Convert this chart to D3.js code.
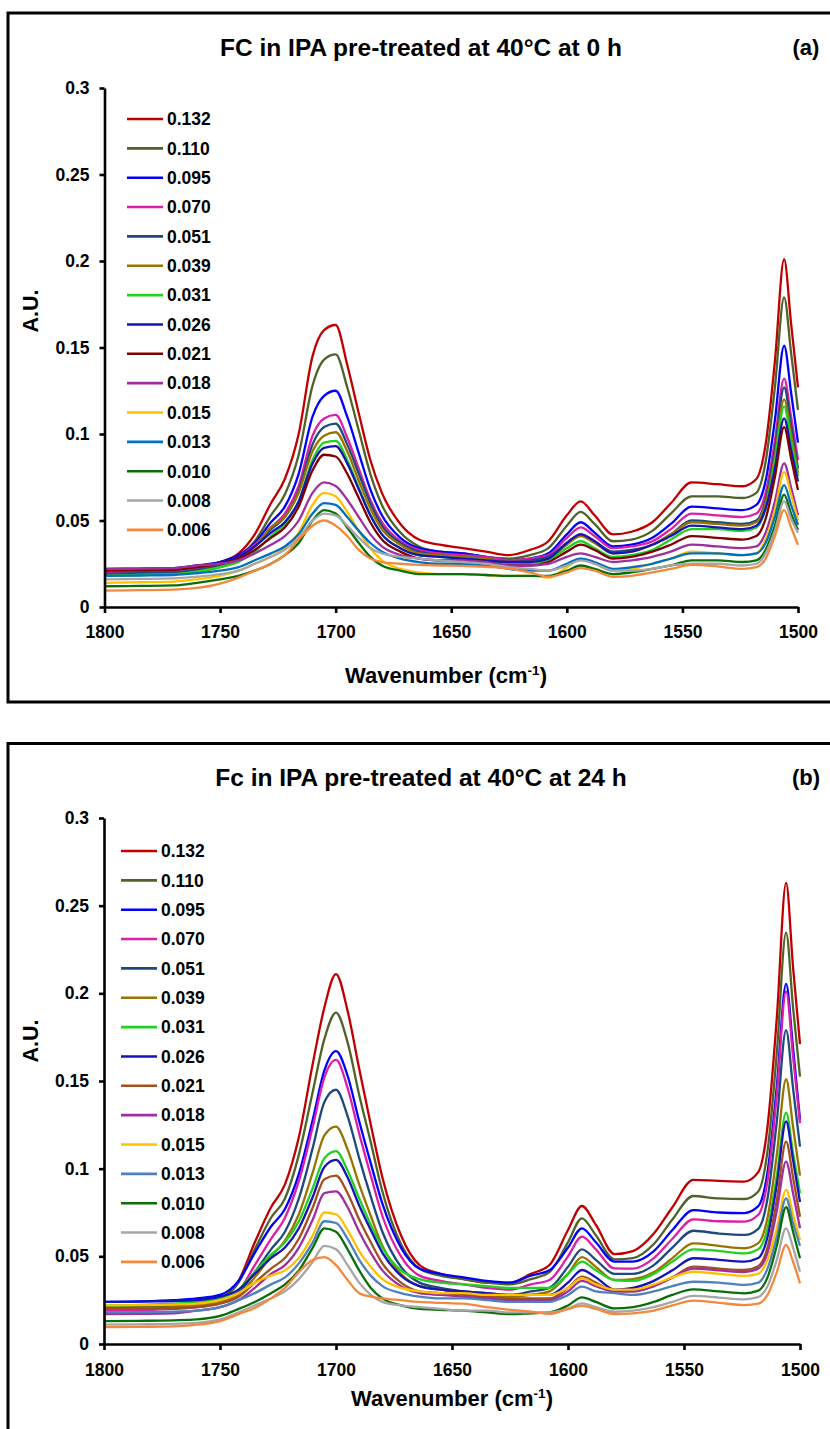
<!DOCTYPE html>
<html>
<head>
<meta charset="utf-8">
<script src="https://cdn.jsdelivr.net/npm/d3@7"></script>
<style>
  html, body { margin: 0; padding: 0; background: #fff; }
  svg { display: block; font-family: "Liberation Sans", Arial, sans-serif; }
</style>
</head>
<body>
<div id="chart"></div>
<script>
// wavenumber grid (cm-1) shared by all spectra
const wavenumber = [1800,1785,1770,1760,1750,1742,1735,1728,1722,1716,1710,1705,1700,1695,1690,1685,1680,1672,1664,1655,1645,1635,1625,1616,1608,1600,1594,1588,1580,1572,1563,1555,1546,1535,1524,1518,1514,1510,1506,1503,1500]

const concentrations = ["0.132","0.110","0.095","0.070","0.051","0.039","0.031","0.026","0.021","0.018","0.015","0.013","0.010","0.008","0.006"]
const xTicks = [1800,1750,1700,1650,1600,1550,1500]
const yTicks = [0,0.05,0.1,0.15,0.2,0.25,0.3]
const yTickLabels = ["0","0.05","0.1","0.15","0.2","0.25","0.3"]

const titleA = "FC in IPA pre-treated at 40\u00B0C at 0 h"
const titleB = "Fc in IPA pre-treated at 40\u00B0C at 24 h"

const colorsA = ["#c00000","#4f6228","#0000ff","#dc1ea8","#1f497d","#997300","#22d022","#1414b8","#800000","#9e2fa0","#ffc000","#0070c0","#0a6e0a","#a6a6a6","#f4883c"]
const colorsB = ["#c00000","#4f6228","#0000ff","#dc1ea8","#1f497d","#997300","#22d022","#1414b8","#a0501e","#9e2fa0","#ffc000","#4f81bd","#0a6e0a","#a6a6a6","#f4883c"]

// (a) 0 h
const a132 = [0.021,0.0215,0.022,0.0235,0.026, 0.031,0.042,0.060,0.074,0.100,0.145,0.160,0.163,0.140,0.112,0.085,0.066, 0.048,0.039,0.036,0.034,0.032,0.030,0.033,0.038,0.053,0.061,0.053,0.042,0.0435,0.049,0.060,0.072,0.071, 0.0698,0.074,0.094,0.142,0.201,0.164,0.127]
const a110 = [0.020,0.0205,0.021,0.0225,0.025, 0.029,0.038,0.053,0.065,0.088,0.128,0.143,0.146,0.127,0.102,0.077,0.059, 0.043,0.035,0.032,0.031,0.029,0.028,0.030,0.034,0.047,0.055,0.048,0.038,0.039,0.044,0.054,0.064,0.064, 0.063,0.066,0.084,0.127,0.179,0.147,0.114]
const a095 = [0.021,0.0215,0.022,0.0235,0.026, 0.030,0.037,0.049,0.058,0.077,0.110,0.122,0.125,0.110,0.089,0.068,0.053, 0.040,0.034,0.032,0.031,0.029,0.027,0.028,0.031,0.042,0.049,0.043,0.035,0.036,0.040,0.048,0.058,0.057, 0.056,0.059,0.073,0.108,0.151,0.124,0.095]
const a070 = [0.020,0.0205,0.021,0.0225,0.025, 0.029,0.036,0.046,0.054,0.070,0.099,0.109,0.111,0.098,0.080,0.062,0.049, 0.038,0.033,0.031,0.030,0.029,0.027,0.028,0.030,0.040,0.046,0.041,0.034,0.035,0.038,0.045,0.054,0.053, 0.052,0.054,0.066,0.096,0.132,0.110,0.085]
const a051 = [0.019,0.0195,0.020,0.0215,0.024, 0.028,0.035,0.045,0.052,0.067,0.094,0.104,0.106,0.094,0.077,0.060,0.047, 0.037,0.032,0.030,0.029,0.028,0.026,0.027,0.029,0.037,0.042,0.038,0.032,0.033,0.036,0.042,0.050,0.049, 0.048,0.050,0.062,0.091,0.127,0.105,0.080]
const a039 = [0.018,0.0185,0.019,0.0205,0.023, 0.027,0.035,0.046,0.052,0.066,0.090,0.099,0.101,0.090,0.073,0.057,0.045, 0.036,0.031,0.030,0.029,0.028,0.026,0.026,0.028,0.036,0.041,0.037,0.031,0.032,0.036,0.042,0.049,0.048, 0.047,0.049,0.060,0.087,0.120,0.100,0.0775]
const a031 = [0.018,0.0185,0.019,0.0205,0.023, 0.026,0.032,0.041,0.048,0.061,0.085,0.095,0.096,0.085,0.069,0.053,0.042, 0.034,0.030,0.029,0.028,0.027,0.025,0.025,0.027,0.034,0.038,0.034,0.029,0.030,0.033,0.039,0.045,0.045, 0.044,0.046,0.057,0.084,0.116,0.096,0.0756]
const a026 = [0.022,0.0222,0.0225,0.024,0.026, 0.029,0.035,0.043,0.049,0.061,0.083,0.092,0.093,0.083,0.068,0.053,0.042, 0.034,0.030,0.029,0.028,0.027,0.026,0.026,0.028,0.037,0.042,0.038,0.031,0.032,0.036,0.041,0.047,0.046, 0.045,0.047,0.057,0.080,0.109,0.091,0.0725]
const a021 = [0.021,0.0212,0.0215,0.023,0.025, 0.028,0.033,0.040,0.046,0.058,0.079,0.088,0.087,0.077,0.063,0.049,0.039, 0.032,0.028,0.027,0.027,0.026,0.024,0.024,0.026,0.032,0.036,0.033,0.028,0.029,0.032,0.036,0.041,0.040, 0.039,0.041,0.051,0.075,0.104,0.086,0.0676]
const a018 = [0.022,0.0222,0.0225,0.024,0.025, 0.027,0.031,0.036,0.041,0.050,0.066,0.072,0.070,0.062,0.052,0.042,0.035, 0.030,0.028,0.027,0.027,0.026,0.024,0.024,0.025,0.029,0.031,0.029,0.026,0.027,0.029,0.032,0.036,0.035, 0.034,0.035,0.043,0.061,0.083,0.069,0.053]
const a015 = [0.014,0.0143,0.0147,0.016,0.018, 0.021,0.025,0.029,0.034,0.043,0.059,0.066,0.064,0.055,0.044,0.034,0.027, 0.022,0.020,0.019,0.019,0.0185,0.018,0.018,0.017,0.023,0.028,0.025,0.021,0.022,0.025,0.028,0.032,0.031, 0.030,0.031,0.039,0.056,0.078,0.065,0.050]
const a013 = [0.018,0.0182,0.0185,0.0195,0.021, 0.023,0.027,0.031,0.035,0.042,0.054,0.060,0.059,0.052,0.044,0.037,0.032, 0.028,0.026,0.025,0.025,0.024,0.022,0.021,0.021,0.025,0.028,0.026,0.022,0.023,0.025,0.028,0.031,0.031, 0.030,0.031,0.037,0.052,0.0705,0.059,0.0474]
const a010 = [0.012,0.0122,0.0125,0.014,0.016, 0.018,0.021,0.025,0.030,0.037,0.050,0.056,0.054,0.046,0.037,0.029,0.024, 0.021,0.019,0.019,0.019,0.0185,0.018,0.018,0.018,0.021,0.024,0.022,0.019,0.020,0.022,0.024,0.027,0.027, 0.026,0.027,0.033,0.047,0.065,0.054,0.0445]
const a008 = [0.016,0.0162,0.0165,0.0175,0.019, 0.021,0.025,0.029,0.033,0.040,0.050,0.054,0.053,0.047,0.040,0.034,0.031, 0.029,0.028,0.027,0.026,0.025,0.023,0.022,0.021,0.024,0.027,0.025,0.021,0.021,0.022,0.024,0.025,0.025, 0.024,0.025,0.031,0.044,0.061,0.051,0.043]
const a006 = [0.0095,0.0097,0.010,0.011,0.0135, 0.017,0.021,0.025,0.030,0.039,0.047,0.050,0.047,0.041,0.033,0.028,0.026, 0.025,0.0243,0.024,0.0238,0.0232,0.0222,0.020,0.0175,0.020,0.0225,0.021,0.0175,0.018,0.020,0.022,0.0243,0.0235, 0.022,0.023,0.028,0.041,0.056,0.046,0.036]

// (b) 24 h
const b132 = [0.021,0.0215,0.022,0.0235,0.026, 0.036,0.058,0.078,0.091,0.118,0.160,0.192,0.211,0.190,0.157,0.125,0.095, 0.062,0.045,0.040,0.037,0.035,0.035,0.040,0.045,0.065,0.0787,0.068,0.0513,0.053,0.063,0.078,0.0936,0.093, 0.0926,0.098,0.124,0.186,0.263,0.215,0.171]
const b110 = [0.021,0.0215,0.022,0.0235,0.026, 0.035,0.054,0.072,0.083,0.108,0.144,0.174,0.189,0.172,0.142,0.115,0.087, 0.057,0.043,0.039,0.037,0.035,0.034,0.037,0.041,0.058,0.0717,0.062,0.0483,0.049,0.057,0.071,0.0844,0.083, 0.0827,0.087,0.110,0.166,0.2346,0.192,0.1525]
const b095 = [0.024,0.0243,0.025,0.026,0.028, 0.036,0.052,0.067,0.077,0.097,0.128,0.156,0.167,0.153,0.127,0.103,0.080, 0.055,0.043,0.040,0.038,0.036,0.035,0.039,0.042,0.055,0.066,0.058,0.047,0.047,0.053,0.065,0.0764,0.075, 0.0747,0.0786,0.098,0.147,0.2054,0.169,0.128]
const b070 = [0.019,0.0193,0.020,0.021,0.024, 0.030,0.045,0.060,0.072,0.093,0.124,0.152,0.162,0.146,0.120,0.096,0.073, 0.050,0.039,0.036,0.034,0.032,0.031,0.034,0.0365,0.050,0.0612,0.054,0.0431,0.043,0.049,0.060,0.0711,0.070, 0.0698,0.0737,0.093,0.142,0.201,0.164,0.126]
const b051 = [0.020,0.0203,0.021,0.022,0.024, 0.029,0.041,0.054,0.064,0.083,0.112,0.138,0.145,0.130,0.106,0.084,0.064, 0.044,0.035,0.032,0.030,0.029,0.028,0.030,0.032,0.044,0.054,0.048,0.040,0.040,0.045,0.055,0.0646,0.063, 0.0622,0.0657,0.083,0.127,0.179,0.146,0.1126]
const b039 = [0.020,0.0203,0.021,0.022,0.024, 0.028,0.038,0.050,0.059,0.074,0.098,0.119,0.124,0.111,0.091,0.073,0.056, 0.040,0.033,0.031,0.029,0.028,0.027,0.028,0.030,0.040,0.0495,0.044,0.0365,0.037,0.041,0.049,0.0574,0.056, 0.0546,0.0575,0.072,0.108,0.151,0.124,0.096]
const b031 = [0.022,0.0223,0.023,0.024,0.026, 0.031,0.041,0.051,0.058,0.070,0.089,0.106,0.110,0.099,0.083,0.068,0.055, 0.042,0.037,0.035,0.034,0.033,0.032,0.032,0.032,0.040,0.047,0.042,0.0365,0.036,0.040,0.047,0.054,0.053, 0.0517,0.054,0.066,0.096,0.132,0.109,0.086]
const b026 = [0.024,0.0242,0.0245,0.025,0.027, 0.031,0.040,0.049,0.055,0.066,0.084,0.101,0.105,0.095,0.079,0.065,0.052, 0.039,0.033,0.031,0.030,0.029,0.028,0.028,0.028,0.035,0.0422,0.038,0.031,0.032,0.036,0.042,0.0489,0.048, 0.047,0.049,0.061,0.091,0.127,0.105,0.081]
const b021 = [0.020,0.0202,0.0205,0.021,0.023, 0.027,0.035,0.043,0.049,0.060,0.078,0.094,0.096,0.086,0.071,0.058,0.046, 0.035,0.030,0.029,0.028,0.027,0.026,0.026,0.026,0.032,0.0384,0.035,0.030,0.030,0.033,0.038,0.0441,0.043, 0.0422,0.0444,0.055,0.082,0.1154,0.095,0.0726]
const b018 = [0.017,0.0172,0.0175,0.019,0.021, 0.025,0.032,0.040,0.045,0.055,0.071,0.086,0.087,0.078,0.064,0.052,0.042, 0.033,0.029,0.028,0.027,0.026,0.025,0.025,0.025,0.030,0.036,0.033,0.030,0.030,0.033,0.038,0.043,0.042, 0.041,0.043,0.052,0.076,0.104,0.086,0.066]
const b015 = [0.022,0.0222,0.0225,0.023,0.025, 0.029,0.035,0.039,0.042,0.049,0.062,0.075,0.074,0.065,0.053,0.044,0.037, 0.032,0.030,0.029,0.029,0.028,0.028,0.028,0.028,0.032,0.0375,0.034,0.031,0.031,0.034,0.038,0.0412,0.040, 0.0388,0.040,0.048,0.066,0.0879,0.074,0.0593]
const b013 = [0.018,0.0182,0.0185,0.019,0.021, 0.025,0.029,0.034,0.038,0.046,0.058,0.070,0.069,0.060,0.048,0.039,0.033, 0.029,0.027,0.026,0.026,0.025,0.024,0.024,0.024,0.028,0.0327,0.030,0.029,0.028,0.030,0.033,0.0355,0.035, 0.0337,0.035,0.043,0.061,0.0831,0.069,0.056]
const b010 = [0.013,0.0132,0.0135,0.014,0.016, 0.020,0.024,0.029,0.034,0.042,0.055,0.066,0.064,0.054,0.042,0.032,0.026, 0.022,0.020,0.0195,0.019,0.018,0.017,0.0175,0.018,0.022,0.0266,0.024,0.0203,0.021,0.024,0.028,0.0311,0.030, 0.0289,0.0304,0.038,0.056,0.078,0.064,0.0489]
const b008 = [0.011,0.0112,0.0115,0.012,0.014, 0.018,0.022,0.026,0.030,0.037,0.047,0.056,0.054,0.045,0.035,0.028,0.024, 0.022,0.021,0.020,0.019,0.019,0.018,0.018,0.018,0.020,0.0232,0.021,0.0184,0.019,0.021,0.024,0.0274,0.0265, 0.0255,0.0267,0.033,0.048,0.066,0.055,0.0412]
const b006 = [0.0096,0.0098,0.010,0.011,0.013, 0.017,0.0205,0.026,0.032,0.041,0.048,0.0495,0.045,0.0365,0.029,0.027,0.026, 0.025,0.024,0.0235,0.023,0.021,0.0195,0.0185,0.0172,0.020,0.0217,0.020,0.0171,0.0175,0.019,0.022,0.0247,0.0235, 0.0222,0.023,0.028,0.041,0.0565,0.047,0.0346]

const panels = [
  { title: titleA, tag: "(a)", colors: colorsA,
    series: [a132,a110,a095,a070,a051,a039,a031,a026,a021,a018,a015,a013,a010,a008,a006],
    frameY: 13, frameH: 689, titleY: 47,
    left: 104.5, right: 798, top: 88, bottom: 607,
    legX: 127, legY: 119, tickPad: 13, xTitleX: 446, xTitleY: 675, yTitleY: 311 },
  { title: titleB, tag: "(b)", colors: colorsB,
    series: [b132,b110,b095,b070,b051,b039,b031,b026,b021,b018,b015,b013,b010,b008,b006],
    frameY: 743.5, frameH: 800, titleY: 777,
    left: 104, right: 800, top: 818, bottom: 1344,
    legX: 121, legY: 851, tickPad: 14, xTitleX: 452, xTitleY: 1398, yTitleY: 1041 }
]

const width = 830, height = 1429
const svg = d3.select("#chart").append("svg")
    .attr("width", width).attr("height", height)

panels.forEach(drawPanel)

function drawPanel(p) {
  const g = svg.append("g")

  g.append("rect")
      .attr("x", 8).attr("y", p.frameY)
      .attr("width", 900).attr("height", p.frameH)
      .attr("fill", "none").attr("stroke", "#000").attr("stroke-width", 3)

  const x = d3.scaleLinear().domain([1800, 1500]).range([p.left, p.right])
  const y = d3.scaleLinear().domain([0, 0.3]).range([p.bottom, p.top])

  const line = d3.line()
      .x((d, i) => x(wavenumber[i]))
      .y(d => y(d))
      .curve(d3.curveMonotoneX)

  g.append("g")
      .attr("fill", "none")
      .attr("stroke-width", 2.3)
      .attr("stroke-linejoin", "round")
    .selectAll("path")
    .data(p.series)
    .enter().append("path")
      .attr("stroke", (d, i) => p.colors[i])
      .attr("d", line)

  const yAxis = g.append("g")
      .attr("transform", "translate(" + p.left + ",0)")
      .call(d3.axisLeft(y).tickValues(yTicks).tickSize(5).tickSizeOuter(0).tickPadding(10)
        .tickFormat((d, i) => yTickLabels[i]))
  const xAxis = g.append("g")
      .attr("transform", "translate(0," + p.bottom + ")")
      .call(d3.axisBottom(x).tickValues(xTicks).tickSize(6).tickSizeOuter(0).tickPadding(p.tickPad)
        .tickFormat(d3.format("d")))

  ;[yAxis, xAxis].forEach(a => {
    a.select(".domain").attr("stroke-width", 2.6)
    a.selectAll(".tick line").attr("stroke-width", 2.6)
    a.selectAll(".tick text")
        .attr("font-family", "'Liberation Sans', Arial, sans-serif")
        .attr("font-size", 17.5).attr("font-weight", "bold").attr("fill", "#000")
  })

  // legend
  const leg = g.append("g")
    .selectAll("g")
    .data(concentrations)
    .enter().append("g")
      .attr("transform", (d, i) => "translate(" + p.legX + "," + (p.legY + i * 29.35) + ")")
  leg.append("line")
      .attr("x1", 0).attr("x2", 36)
      .attr("stroke", (d, i) => p.colors[i]).attr("stroke-width", 2.6)
  leg.append("text")
      .attr("x", 40).attr("dy", "0.36em")
      .attr("font-size", 17.5).attr("font-weight", "bold")
      .text(d => d)

  g.append("text")
      .attr("x", 421).attr("y", p.titleY).attr("dy", "0.36em")
      .attr("text-anchor", "middle")
      .attr("font-size", 24.5).attr("font-weight", "bold")
      .text(p.title)
  g.append("text")
      .attr("x", 806).attr("y", p.titleY).attr("dy", "0.36em")
      .attr("text-anchor", "middle")
      .attr("font-size", 22).attr("font-weight", "bold")
      .text(p.tag)

  const xt = g.append("text")
      .attr("x", p.xTitleX).attr("y", p.xTitleY).attr("dy", "0.36em")
      .attr("text-anchor", "middle")
      .attr("font-size", 22).attr("font-weight", "bold")
  xt.append("tspan").text("Wavenumber (cm")
  xt.append("tspan").attr("font-size", 13.5).attr("dy", -8).text("-1")
  xt.append("tspan").attr("dy", 8).text(")")

  g.append("text")
      .attr("transform", "translate(30," + p.yTitleY + ") rotate(-90)")
      .attr("dy", "0.36em")
      .attr("text-anchor", "middle")
      .attr("font-size", 21.5).attr("font-weight", "bold")
      .text("A.U.")
}
</script>
</body>
</html>
